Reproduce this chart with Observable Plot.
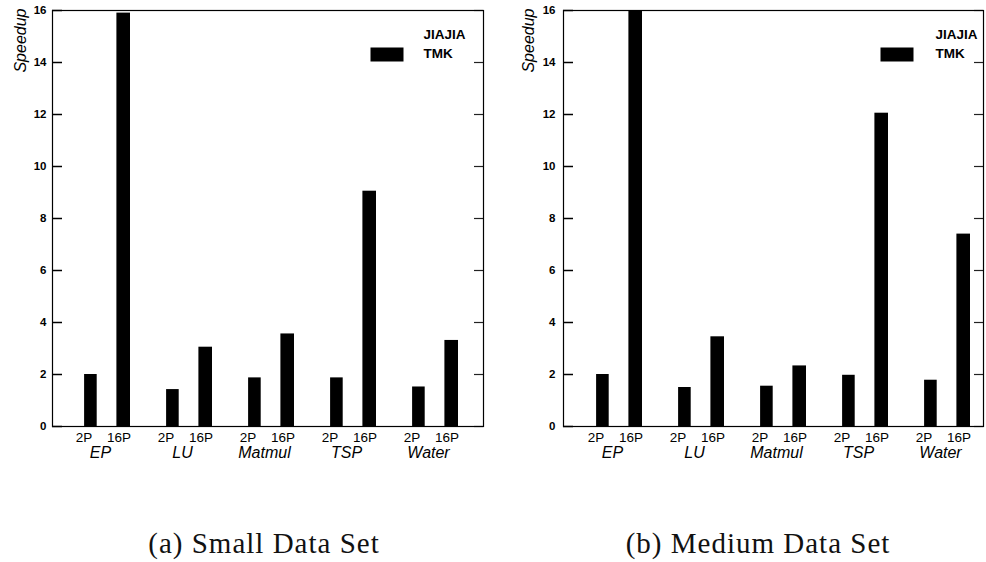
<!DOCTYPE html>
<html>
<head>
<meta charset="utf-8">
<script src="https://cdn.jsdelivr.net/npm/d3@7"></script>
<script src="https://cdn.jsdelivr.net/npm/@observablehq/plot@0.6"></script>
<style>
  html, body { margin: 0; padding: 0; background: #fff; }
  #wrap { position: relative; width: 986px; height: 562px; overflow: hidden; }
  .panel { position: absolute; top: 0; width: 493px; }
  .caption { position: absolute; font-family: "Liberation Serif", "Times New Roman", serif; font-size: 29px; letter-spacing: 1px; color: #111; text-align: center; white-space: nowrap; line-height: normal; }
</style>
</head>
<body>
<div id="wrap">
  <div class="panel" id="left" style="left:0px"></div>
  <div class="panel" id="right" style="left:493px"></div>
  <div class="caption" style="left:64px; width:400px; top:527px">(a) Small Data Set</div>
  <div class="caption" style="left:558px; width:400px; top:527px">(b) Medium Data Set</div>
</div>
<script>
// ---- data ----
const benches = ["EP", "LU", "Matmul", "TSP", "Water"];
const procs = ["2P", "16P"];
const series = ["JIAJIA", "TMK"];
const yTicks = [0, 2, 4, 6, 8, 10, 12, 14, 16];
const yLabel = "Speedup";

// TMK speedups, Small data set
const smallTMK2P  = [2.0, 1.42, 1.87, 1.87, 1.52];
const smallTMK16P = [15.9, 3.05, 3.56, 9.05, 3.31];
// TMK speedups, Medium data set
const mediumTMK2P  = [2.0, 1.5, 1.55, 1.97, 1.78];
const mediumTMK16P = [16.0, 3.45, 2.33, 12.05, 7.4];

function buildRows(v2, v16) {
  return benches.flatMap((b, i) => [
    {bench: b, proc: "2P", series: "TMK", value: v2[i]},
    {bench: b, proc: "16P", series: "TMK", value: v16[i]}
  ]);
}

const FONT = "'Liberation Sans', Arial, Helvetica, sans-serif";
const seriesColor = {JIAJIA: "white", TMK: "black"};

function makePanel(rows, cfg) {
  const W = 493, H = 470;
  const fw = W - cfg.ml - cfg.mr;
  const fh = H - 10 - 44;
  const barStyle = {
    "2P":  {insetLeft: 25.1, insetRight: 44.3, dx: -16.5},
    "16P": {insetLeft: 57.4, insetRight: 11.0, dx: 18.6}
  };
  const marks = [];
  // bars
  for (const p of procs) {
    marks.push(Plot.barY(rows.filter(d => d.proc === p), {
      x: "bench", y: "value", fill: d => seriesColor[d.series],
      insetLeft: barStyle[p].insetLeft, insetRight: barStyle[p].insetRight
    }));
    marks.push(Plot.text(rows.filter(d => d.proc === p), {
      x: "bench", text: "proc", frameAnchor: "bottom", dx: barStyle[p].dx, dy: 6,
      lineAnchor: "top", fontSize: 13.5, fill: "black"
    }));
  }
  // inward ticks on both sides
  marks.push(Plot.ruleY(yTicks, {y: d => d, insetRight: fw - 10, stroke: "black", strokeWidth: 1.5}));
  marks.push(Plot.ruleY(yTicks, {y: d => d, insetLeft: fw - 9, stroke: "#222", strokeWidth: 1.2}));
  marks.push(Plot.axisY({ticks: yTicks, tickSize: 0, tickPadding: cfg.tp, fontSize: 11.5, fontWeight: "bold", label: null, tickFormat: d => d}));
  marks.push(Plot.axisX({tickSize: 0, tickPadding: 20, fontSize: 16, fontStyle: "italic", label: null}));
  marks.push(Plot.frame({stroke: "black", strokeWidth: 1.2}));
  // y label
  marks.push(Plot.text([yLabel], {text: d => d, frameAnchor: "top-left", rotate: -90, textAnchor: "end",
    lineAnchor: "bottom", dx: cfg.ldx, dy: -2, fontSize: 16, fontStyle: "italic", fill: "black"}));
  // legend
  series.forEach((s, i) => {
    marks.push(Plot.frame({fill: seriesColor[s], stroke: null,
      insetLeft: cfg.sw, insetRight: fw - cfg.sw - 33,
      insetTop: 19 + 18 * i, insetBottom: fh - 19 - 18 * i - 14}));
    marks.push(Plot.text([s], {text: d => d, frameAnchor: "top-left", dx: cfg.lx, dy: 24 + 19 * i,
      lineAnchor: "middle", textAnchor: "start", fontSize: 13.5, fontWeight: "bold", fill: "black"}));
  });
  return Plot.plot({
    width: W, height: H,
    marginLeft: cfg.ml, marginRight: cfg.mr, marginTop: 10, marginBottom: 44,
    style: {fontFamily: FONT, color: "black", background: "white", overflow: "visible"},
    x: {type: "band", domain: benches, paddingInner: 0, paddingOuter: cfg.po, align: cfg.al, axis: null},
    y: {domain: [0, 16], axis: null},
    marks
  });
}

document.getElementById("left").appendChild(
  makePanel(buildRows(smallTMK2P, smallTMK16P), {ml: 52, mr: 10, po: 0.104, al: 0.325, tp: 6, ldx: -27, sw: 318, lx: 371})
);
document.getElementById("right").appendChild(
  makePanel(buildRows(mediumTMK2P, mediumTMK16P), {ml: 70, mr: 3, po: 0.0378, al: 0.83, tp: 8, ldx: -30, sw: 317, lx: 372})
);
</script>
</body>
</html>
